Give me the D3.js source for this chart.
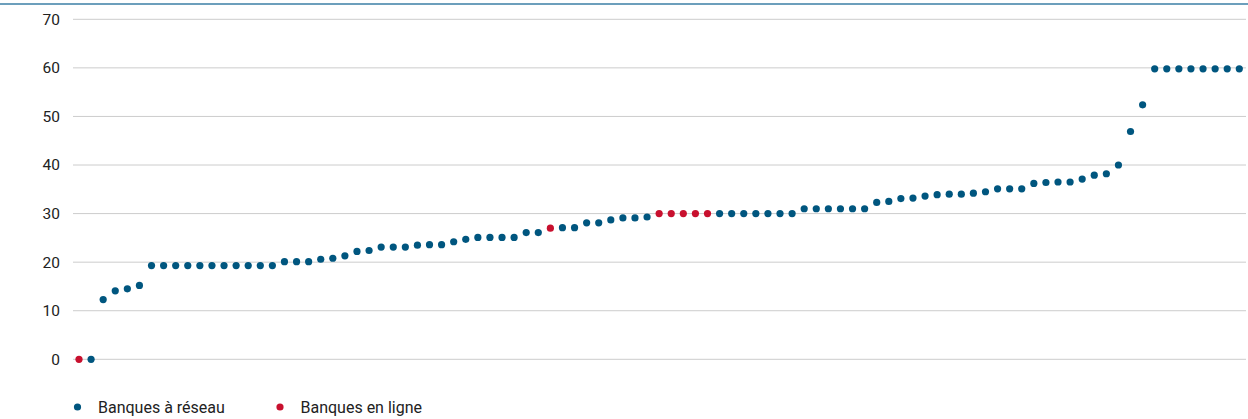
<!DOCTYPE html>
<html>
<head>
<meta charset="utf-8">
<script src="https://cdn.jsdelivr.net/npm/d3@7"></script>
<style>
  html, body { margin: 0; padding: 0; background: #fff; }
  svg { display: block; }
  text { font-family: Roboto, "Liberation Sans", sans-serif; fill: #222; }
</style>
</head>
<body>
<svg id="chart" width="1248" height="419"></svg>
<script>
// Values per bank (sorted)
const values = [
  0, 0, 12.3, 14.1, 14.5, 15.2,
  19.3, 19.3, 19.3, 19.3, 19.3, 19.3, 19.3, 19.3, 19.3, 19.3, 19.3,
  20.1, 20.1, 20.1, 20.6, 20.8, 21.3, 22.2, 22.4, 23.1, 23.1, 23.1,
  23.5, 23.6, 23.6, 24.2, 24.7, 25.1, 25.1, 25.1, 25.1, 26.1, 26.1,
  27.0, 27.1, 27.1, 28.1, 28.1, 28.7, 29.1, 29.1, 29.3,
  30, 30, 30, 30, 30, 30, 30, 30, 30, 30, 30, 30,
  31.0, 31.0, 31.0, 31.0, 31.0, 31.0,
  32.3, 32.5, 33.1, 33.2, 33.6, 33.9, 34.0, 34.0, 34.2, 34.5,
  35.1, 35.1, 35.1, 36.2, 36.4, 36.5, 36.5, 37.1, 37.9, 38.2,
  40.0, 46.9, 52.4,
  59.8, 59.8, 59.8, 59.8, 59.8, 59.8, 59.8, 59.8
];
// Indices of online banks (red)
const onlineIdx = [0, 39, 48, 49, 50, 51, 52];
const seriesNames = ["Banques à réseau", "Banques en ligne"];
const seriesColors = ["#00567f", "#c8102e"];
const yTicks = [0, 10, 20, 30, 40, 50, 60, 70];

const svg = d3.select("#chart");

// top rule
svg.append("line")
  .attr("x1", 0).attr("x2", 1248).attr("y1", 4).attr("y2", 4)
  .attr("stroke", "#3b7fa6").attr("stroke-width", 1.5);

const x = d3.scaleLinear().domain([0, values.length - 1]).range([79, 1239.3]);
const y = d3.scaleLinear().domain([0, 70]).range([359.3, 19.3]);

// gridlines + labels via axis
const yAxis = d3.axisLeft(y).tickValues(yTicks).tickSize(0).tickPadding(0);
const gAxis = svg.append("g").attr("transform", "translate(60,0)").call(yAxis);
gAxis.select(".domain").remove();
gAxis.selectAll("text")
  .attr("font-size", 15.5).attr("font-family", "Roboto, sans-serif")
  .attr("fill", "#222").attr("dx", 0);

svg.append("g").selectAll("line")
  .data(yTicks).join("line")
  .attr("x1", 73).attr("x2", 1246)
  .attr("y1", d => y(d)).attr("y2", d => y(d))
  .attr("stroke", "#cccccc").attr("stroke-width", 1);

const pts = values.map((v, i) => ({ i, v, online: onlineIdx.includes(i) }));

svg.append("g").selectAll("circle")
  .data(pts).join("circle")
  .attr("cx", d => x(d.i))
  .attr("cy", d => y(d.v))
  .attr("r", 3.6)
  .attr("fill", d => d.online ? seriesColors[1] : seriesColors[0]);

// legend
const legendX = [77.5, 280];
const leg = svg.append("g").selectAll("g")
  .data(seriesNames).join("g")
  .attr("transform", (d, k) => `translate(${legendX[k]},407)`);
leg.append("circle").attr("r", 3.6).attr("fill", (d, k) => seriesColors[k]);
leg.append("text")
  .attr("x", 20.5).attr("y", 6)
  .attr("font-size", 16)
  .text(d => d);
</script>
</body>
</html>
